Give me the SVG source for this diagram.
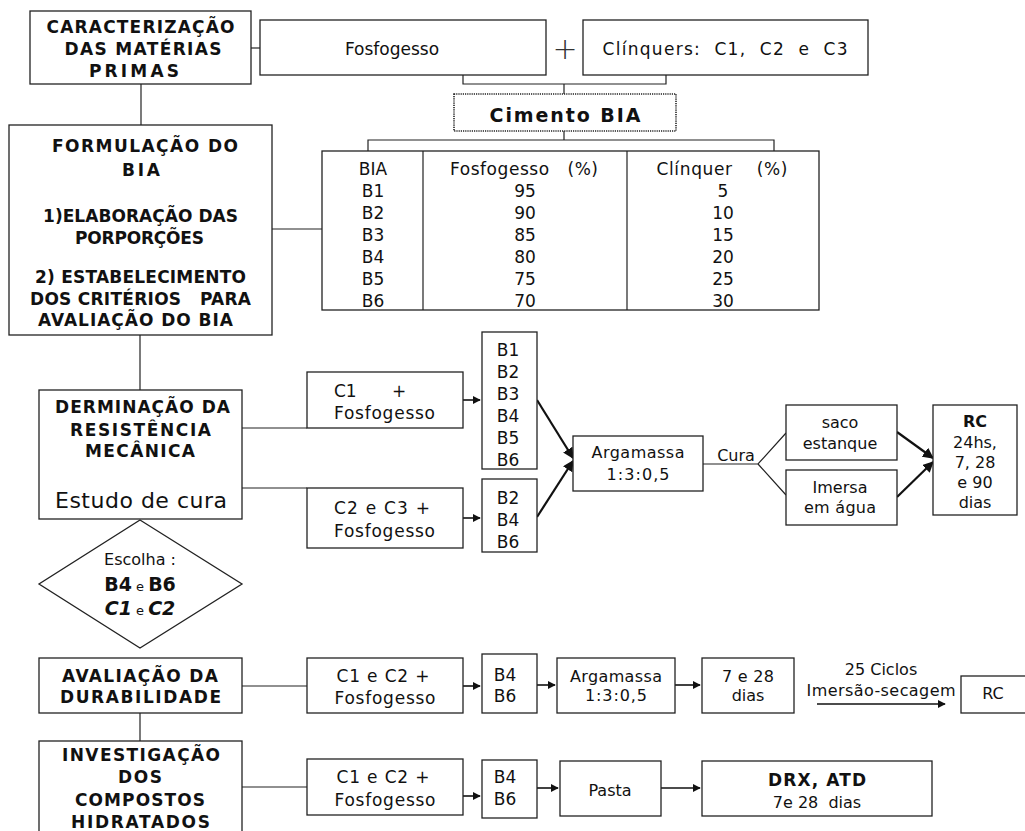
<svg xmlns="http://www.w3.org/2000/svg" width="1025" height="831" viewBox="0 0 1025 831">
<defs>
<style>
.box{fill:#fff;stroke:#222;stroke-width:1.3}
.dot{fill:#fff;stroke:#222;stroke-width:1.6;stroke-dasharray:1.2 1}
.ln{fill:none;stroke:#222;stroke-width:1.2}
.ar{fill:none;stroke:#111;stroke-width:1.6}
.tk{fill:none;stroke:#111;stroke-width:2.2}
text{font-family:"DejaVu Sans","Liberation Sans",sans-serif;fill:#111;text-anchor:middle}
.h{font-weight:bold;font-size:17px}
.t{font-size:16px}
.b{font-size:17px}
.m{font-size:17px}
</style>
<marker id="a" viewBox="0 0 10 10" refX="9" refY="5" markerWidth="5" markerHeight="5" orient="auto" markerUnits="strokeWidth"><path d="M0,0 L10,5 L0,10 z" fill="#111"/></marker>
<marker id="b" viewBox="0 0 10 10" refX="9" refY="5" markerWidth="5" markerHeight="5" orient="auto" markerUnits="strokeWidth"><path d="M0,0 L10,5 L0,10 z" fill="#111"/></marker>
</defs>
<rect width="1025" height="831" fill="#fff"/>

<g id="connectors">
<path class="ln" d="M251,48 H260"/>
<path class="ln" d="M141,84 V125"/>
<path class="ln" d="M463,75 V84 H666 V75 M564,84 V94"/>
<path class="ln" d="M564,131 V140 M368,151 V140 H774 V151"/>
<path class="ln" d="M272,229 H322"/>
<path class="ln" d="M140,335 V390"/>
<path class="ln" d="M242,428 H307 M242,488 H307"/>
<path class="ar" d="M463,400 H480" marker-end="url(#a)"/>
<path class="ar" d="M463,518 H480" marker-end="url(#a)"/>
<path class="tk" d="M537,400 L573,458" marker-end="url(#b)"/>
<path class="tk" d="M537,517 L573,461" marker-end="url(#b)"/>
<path class="ln" d="M703,464 H758 L786,433 M758,464 L786,495"/>
<path class="tk" d="M897,432 L933,458" marker-end="url(#b)"/>
<path class="tk" d="M897,497 L933,462" marker-end="url(#b)"/>
<path class="ln" d="M242,686 H307"/>
<path class="ar" d="M463,686 H480" marker-end="url(#a)"/>
<path class="ar" d="M537,685 H555" marker-end="url(#a)"/>
<path class="ar" d="M675,685 H700" marker-end="url(#a)"/>
<path class="ar" d="M817,704 H945" marker-end="url(#a)"/>
<path class="ln" d="M140,713 V741"/>
<path class="ln" d="M242,787 H307"/>
<path class="ar" d="M463,796 H480" marker-end="url(#a)"/>
<path class="ar" d="M537,788 H558" marker-end="url(#a)"/>
<path class="ar" d="M661,788 H700" marker-end="url(#a)"/>
</g>

<g id="caracterizacao">
<rect class="box" x="30" y="11" width="221" height="73"/>
<text class="h" x="140.5" y="33" textLength="188" lengthAdjust="spacing">CARACTERIZAÇÃO</text>
<text class="h" x="143" y="55" textLength="157" lengthAdjust="spacing">DAS MATÉRIAS</text>
<text class="h" x="134" y="77" textLength="90" lengthAdjust="spacing">PRIMAS</text>
</g>

<g id="fosfogesso">
<rect class="box" x="260" y="20" width="286" height="55"/>
<text x="392" y="55" style="font-size:17px">Fosfogesso</text>
</g>

<g id="plus">
<text x="565" y="59" style="font-family:'DejaVu Sans',sans-serif;font-size:30px;font-weight:200;fill:#333">+</text>
</g>

<g id="clinquers">
<rect class="box" x="583" y="20" width="285" height="55"/>
<text class="m" x="725" y="55" textLength="245" lengthAdjust="spacing">Clínquers:&#160; C1,&#160; C2&#160; e&#160; C3</text>
</g>

<g id="cimento">
<rect class="dot" x="454" y="94" width="222" height="37"/>
<text class="h" x="565" y="122" style="font-size:19px" textLength="151" lengthAdjust="spacing">Cimento BIA</text>
</g>

<g id="formulacao">
<rect class="box" x="9" y="125" width="263" height="210"/>
<text class="h" x="145" y="152" textLength="186" lengthAdjust="spacing">FORMULAÇÃO DO</text>
<text class="h" x="141" y="176" textLength="38" lengthAdjust="spacing">BIA</text>
<text class="h" x="140.5" y="222" textLength="195" lengthAdjust="spacing">1)ELABORAÇÃO DAS</text>
<text class="h" x="139.5" y="244" textLength="129" lengthAdjust="spacing">PORPORÇÕES</text>
<text class="h" x="140.5" y="283" textLength="211" lengthAdjust="spacing">2) ESTABELECIMENTO</text>
<text class="h" x="140.5" y="305" textLength="221" lengthAdjust="spacing">DOS CRITÉRIOS&#160;&#160; PARA</text>
<text class="h" x="135.5" y="326" textLength="195" lengthAdjust="spacing">AVALIAÇÃO DO BIA</text>
</g>

<g id="tabela">
<rect class="box" x="322" y="151" width="497" height="159"/>
<path class="ln" d="M423,151 V310 M627,151 V310"/>
<text class="b" x="373" y="175">BIA</text>
<text class="b" x="524" y="175" textLength="148" lengthAdjust="spacing">Fosfogesso&#160;&#160; (%)</text>
<text class="b" x="722" y="175" textLength="131" lengthAdjust="spacing">Clínquer&#160;&#160;&#160; (%)</text>
<text class="b" x="373" y="197">B1</text><text class="b" x="525" y="197">95</text><text class="b" x="723" y="197">5</text>
<text class="b" x="373" y="219">B2</text><text class="b" x="525" y="219">90</text><text class="b" x="723" y="219">10</text>
<text class="b" x="373" y="241">B3</text><text class="b" x="525" y="241">85</text><text class="b" x="723" y="241">15</text>
<text class="b" x="373" y="263">B4</text><text class="b" x="525" y="263">80</text><text class="b" x="723" y="263">20</text>
<text class="b" x="373" y="285">B5</text><text class="b" x="525" y="285">75</text><text class="b" x="723" y="285">25</text>
<text class="b" x="373" y="307">B6</text><text class="b" x="525" y="307">70</text><text class="b" x="723" y="307">30</text>
</g>

<g id="determinacao">
<rect class="box" x="39" y="390" width="203" height="129"/>
<text class="h" x="142.5" y="413" textLength="175" lengthAdjust="spacing">DERMINAÇÃO DA</text>
<text class="h" x="140.5" y="436" textLength="141" lengthAdjust="spacing">RESISTÊNCIA</text>
<text class="h" x="140" y="457" textLength="110" lengthAdjust="spacing">MECÂNICA</text>
<text x="141" y="508" style="font-size:22px" textLength="172" lengthAdjust="spacing">Estudo de cura</text>
</g>

<g id="c1fosfo">
<rect class="box" x="307" y="372" width="156" height="56"/>
<text class="m" x="334" y="397" style="text-anchor:start">C1<tspan x="392">+</tspan></text>
<text class="m" x="384.5" y="419" textLength="101" lengthAdjust="spacing">Fosfogesso</text>
</g>

<g id="c2c3fosfo">
<rect class="box" x="307" y="488" width="156" height="60"/>
<text class="m" x="382" y="514" textLength="96" lengthAdjust="spacing">C2 e C3 +</text>
<text class="m" x="384.5" y="537" textLength="101" lengthAdjust="spacing">Fosfogesso</text>
</g>

<g id="b1b6">
<rect class="box" x="482" y="332" width="55" height="137"/>
<text class="b" x="508" y="356">B1</text>
<text class="b" x="508" y="378">B2</text>
<text class="b" x="508" y="400">B3</text>
<text class="b" x="508" y="422">B4</text>
<text class="b" x="508" y="444">B5</text>
<text class="b" x="508" y="466">B6</text>
</g>

<g id="b246">
<rect class="box" x="482" y="479" width="55" height="73"/>
<text class="b" x="508" y="504">B2</text>
<text class="b" x="508" y="526">B4</text>
<text class="b" x="508" y="548">B6</text>
</g>

<g id="argamassa1">
<rect class="box" x="573" y="436" width="130" height="55"/>
<text class="t" x="638" y="458" textLength="93" lengthAdjust="spacing">Argamassa</text>
<text class="t" x="638" y="480" textLength="63" lengthAdjust="spacing">1:3:0,5</text>
</g>

<g id="cura">
<text class="t" x="736" y="461">Cura</text>
</g>

<g id="saco">
<rect class="box" x="786" y="405" width="111" height="55"/>
<text class="t" x="840" y="428">saco</text>
<text class="t" x="840" y="449">estanque</text>
</g>

<g id="imersa">
<rect class="box" x="786" y="470" width="111" height="55"/>
<text class="t" x="840" y="493">Imersa</text>
<text class="t" x="840" y="513" textLength="72" lengthAdjust="spacing">em água</text>
</g>

<g id="rc1">
<rect class="box" x="933" y="405" width="84" height="110"/>
<text class="t" x="975" y="427" style="font-weight:bold">RC</text>
<text class="t" x="975" y="448">24hs,</text>
<text class="t" x="975" y="468">7, 28</text>
<text class="t" x="975" y="488">e 90</text>
<text class="t" x="975" y="508">dias</text>
</g>

<g id="escolha">
<polygon class="box" points="140,520 242,584 140,648 39,584"/>
<text x="140" y="565" style="font-size:16px">Escolha :</text>
<text x="140" y="591"><tspan style="font-weight:bold;font-size:19px">B4</tspan><tspan style="font-size:13px"> e </tspan><tspan style="font-weight:bold;font-size:19px">B6</tspan></text>
<text x="140" y="615"><tspan style="font-weight:bold;font-style:italic;font-size:19px">C1</tspan><tspan style="font-size:13px"> e </tspan><tspan style="font-weight:bold;font-style:italic;font-size:19px">C2</tspan></text>
</g>

<g id="avaliacao">
<rect class="box" x="39" y="658" width="203" height="55"/>
<text class="h" x="140" y="682" textLength="156" lengthAdjust="spacing">AVALIAÇÃO DA</text>
<text class="h" x="140.5" y="703" textLength="161" lengthAdjust="spacing">DURABILIDADE</text>
</g>

<g id="c1c2fosfo1">
<rect class="box" x="307" y="658" width="156" height="55"/>
<text class="m" x="383" y="682" textLength="93" lengthAdjust="spacing">C1 e C2 +</text>
<text class="m" x="385" y="704" textLength="101" lengthAdjust="spacing">Fosfogesso</text>
</g>

<g id="b46a">
<rect class="box" x="482" y="654" width="55" height="59"/>
<text class="b" x="505" y="681">B4</text>
<text class="b" x="505" y="702">B6</text>
</g>

<g id="argamassa2">
<rect class="box" x="557" y="658" width="118" height="55"/>
<text class="t" x="616" y="682" textLength="92" lengthAdjust="spacing">Argamassa</text>
<text class="t" x="616" y="701" textLength="62" lengthAdjust="spacing">1:3:0,5</text>
</g>

<g id="dias728">
<rect class="box" x="702" y="658" width="92" height="55"/>
<text class="t" x="748" y="682" textLength="52" lengthAdjust="spacing">7 e 28</text>
<text class="t" x="748" y="701">dias</text>
</g>

<g id="ciclos">
<text class="t" x="881" y="675">25 Ciclos</text>
<text class="t" x="881" y="696" textLength="149" lengthAdjust="spacing">Imersão-secagem</text>
</g>

<g id="rc2">
<rect class="box" x="961" y="676" width="80" height="37"/>
<text class="t" x="993" y="699">RC</text>
</g>

<g id="investigacao">
<rect class="box" x="39" y="741" width="203" height="100"/>
<text class="h" x="141" y="761" textLength="158" lengthAdjust="spacing">INVESTIGAÇÃO</text>
<text class="h" x="140" y="783" textLength="44" lengthAdjust="spacing">DOS</text>
<text class="h" x="140" y="806" textLength="130" lengthAdjust="spacing">COMPOSTOS</text>
<text class="h" x="140.5" y="828" textLength="139" lengthAdjust="spacing">HIDRATADOS</text>
</g>

<g id="c1c2fosfo2">
<rect class="box" x="307" y="759" width="156" height="56"/>
<text class="m" x="383" y="783" textLength="93" lengthAdjust="spacing">C1 e C2 +</text>
<text class="m" x="385" y="806" textLength="101" lengthAdjust="spacing">Fosfogesso</text>
</g>

<g id="b46b">
<rect class="box" x="482" y="760" width="55" height="58"/>
<text class="b" x="505" y="783">B4</text>
<text class="b" x="505" y="805">B6</text>
</g>

<g id="pasta">
<rect class="box" x="560" y="761" width="101" height="55"/>
<text class="t" x="610" y="796">Pasta</text>
</g>

<g id="drx">
<rect class="box" x="702" y="761" width="230" height="55"/>
<text x="817" y="786" style="font-weight:bold;font-size:17px" textLength="98" lengthAdjust="spacing">DRX, ATD</text>
<text class="t" x="817" y="808">7e 28&#160; dias</text>
</g>
</svg>
